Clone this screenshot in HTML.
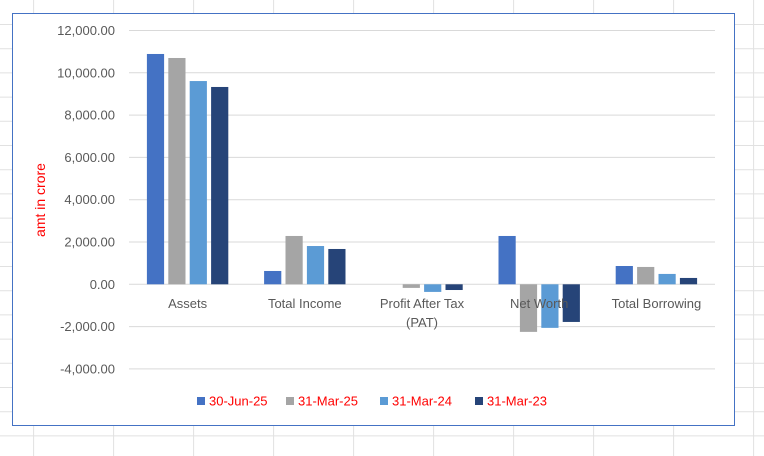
<!DOCTYPE html>
<html><head><meta charset="utf-8"><style>
body{margin:0;width:764px;height:456px;overflow:hidden;background:#fff;font-family:"Liberation Sans",sans-serif}
svg{display:block}
</style></head><body>
<svg id="c" width="764" height="456" xmlns="http://www.w3.org/2000/svg">
<g id="sheet"></g>
<rect x="12.5" y="13.5" width="722" height="412" fill="#fff" stroke="#4472c4" stroke-width="1"/>
<g id="grid"></g><g id="bars"></g><g id="labels"></g><g id="legend"></g>
<text x="0" y="0" transform="translate(45,200) rotate(-90)" text-anchor="middle" font-size="14" fill="#ff0000">amt in crore</text>
</svg>
<script>
const categories=["Assets","Total Income","Profit After Tax|(PAT)","Net Worth","Total Borrowing"];
const seriesNames=["30-Jun-25","31-Mar-25","31-Mar-24","31-Mar-23"];
const s1=[10890,630,0,2285,865];
const s2=[10700,2285,-170,-2250,820];
const s3=[9610,1810,-360,-2060,490];
const s4=[9330,1670,-270,-1780,300];
const ticks=[12000,10000,8000,6000,4000,2000,0,-2000,-4000];
const tickLabels=["12,000.00","10,000.00","8,000.00","6,000.00","4,000.00","2,000.00","0.00","-2,000.00","-4,000.00"];
const colors=["#4472c4","#a5a5a5","#5b9bd5","#264478"];
const series=[s1,s2,s3,s4];
const NS="http://www.w3.org/2000/svg";
const L=129,R=715,y0=284.3,pxPer=42.3/2000;
const y=v=>y0-v*pxPer;
const bw=(R-L)/categories.length;
function mk(tag,attrs,parent){const e=document.createElementNS(NS,tag);for(const k in attrs)e.setAttribute(k,attrs[k]);document.getElementById(parent).appendChild(e);return e;}
// spreadsheet background
for(let i=0;i<10;i++){const l=mk('line',{x1:33.6+i*80,x2:33.6+i*80,y1:0,y2:456,stroke:'#e1e1e1'},'sheet');

}
for(let i=0;i<18;i++){const l=mk('line',{x1:0,x2:764,y1:24.5+i*24.2,y2:24.5+i*24.2,stroke:'#e1e1e1'},'sheet');

}
ticks.forEach((t,i)=>{
 const g=mk('line',{x1:L,x2:R,y1:y(t),y2:y(t),stroke:'#d9d9d9','stroke-width':1},'grid');
 
 
 const tx=mk('text',{x:115,y:y(t)+4.5,'text-anchor':'end','font-size':13,fill:'#595959'},'labels');
 tx.textContent=tickLabels[i];
 
 
});
const bar=17.2,gap=4.2;
categories.forEach((c,ci)=>{
 const cx=L+bw*ci+bw/2;
 series.forEach((s,si)=>{
  const x=cx-(4*bar+3*gap)/2+si*(bar+gap);
  const v=s[ci];
  const r=mk('rect',{x:x,y:Math.min(y(v),y0),width:bar,height:Math.abs(y(v)-y0),fill:colors[si]},'bars');
  
  
 });
 c.split('|').forEach((part,pi)=>{
  const t=mk('text',{x:cx,y:308+pi*19,'text-anchor':'middle','font-size':13,fill:'#595959'},'labels');
  t.textContent=part;
  
  
 });
});
const lx=[197,286,380,475];
seriesNames.forEach((n,i)=>{
 const m=mk('rect',{x:lx[i],y:397,width:8,height:8,fill:colors[i]},'legend');
 
 
 const t=mk('text',{x:lx[i]+12,y:405.5,'font-size':13,fill:'#ff0000'},'legend');
 t.textContent=n;
 
 
});
</script>
</body></html>
